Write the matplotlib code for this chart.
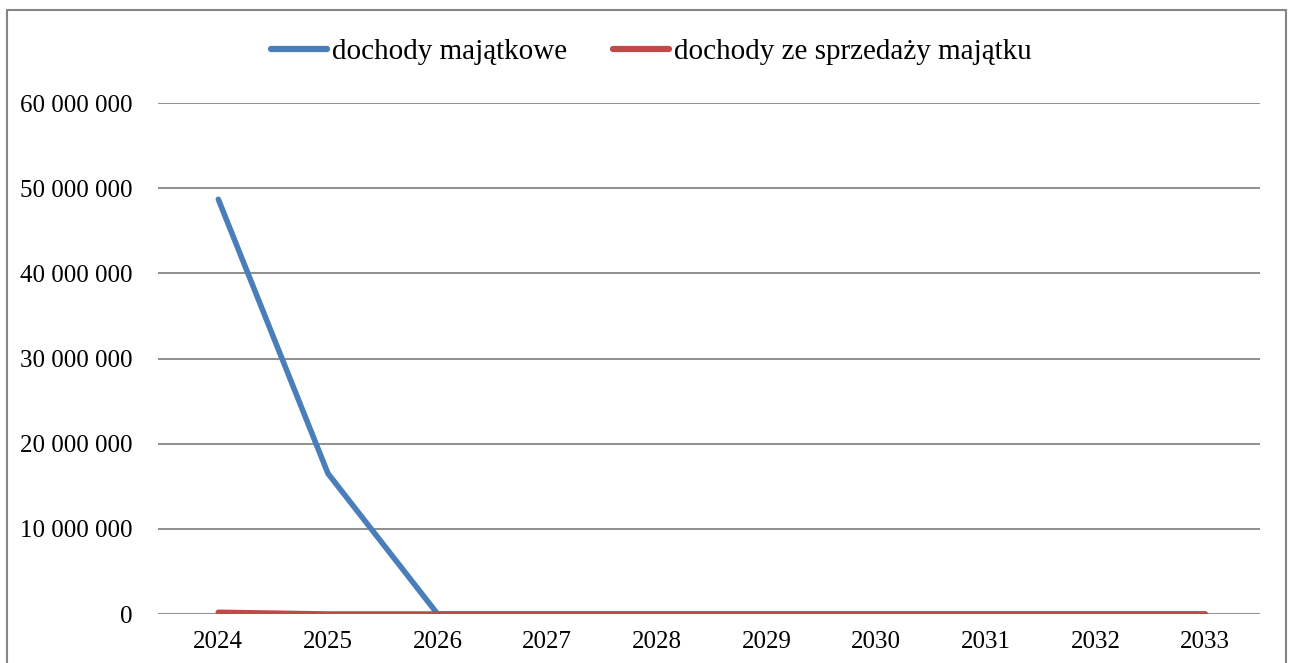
import matplotlib
matplotlib.use("Agg")
import matplotlib.pyplot as plt
from matplotlib.patches import Rectangle
from matplotlib.ticker import FuncFormatter

# Data
years = ["2024", "2025", "2026", "2027", "2028", "2029", "2030", "2031", "2032", "2033"]
dochody_majatkowe = [48700000, 16500000, 0, 0, 0, 0, 0, 0, 0, 0]
dochody_sprzedaz = [200000, 0, 0, 0, 0, 0, 0, 0, 0, 0]
y_ticks = [0, 10000000, 20000000, 30000000, 40000000, 50000000, 60000000]

plt.rcParams['font.family'] = ['Liberation Serif', 'DejaVu Serif']

fig = plt.figure(figsize=(12.95, 6.63), dpi=100)
ax = fig.add_axes([0.122, 0.0739, 0.851, 0.7707])

x = range(len(years))
ax.plot(x, dochody_majatkowe, color='#4A7EBB', lw=4.0, solid_capstyle='round',
        label='dochody majątkowe', zorder=3)
ax.plot(x, dochody_sprzedaz, color='#BE4B48', lw=4.0, solid_capstyle='round',
        label='dochody ze sprzedaży majątku', zorder=3)

ax.set_xlim(-0.55, 9.5)
ax.set_ylim(0, 60000000)
ax.set_xticks(list(x))
ax.set_xticklabels(years)
ax.set_yticks(y_ticks)
ax.yaxis.set_major_formatter(FuncFormatter(lambda v, p: f"{int(v):,}".replace(",", " ")))
ax.tick_params(axis='both', length=0, labelsize=18)
ax.tick_params(axis='y', pad=18)
ax.tick_params(axis='x', pad=12)
ax.grid(axis='y', color='#868686', lw=1.3)
ax.set_axisbelow(True)
for s in ax.spines.values():
    s.set_visible(False)

leg = fig.legend(loc='center', bbox_to_anchor=(0.503, 0.922), ncol=2, frameon=False,
                 fontsize=21, handlelength=1.9, handletextpad=0.17, columnspacing=1.6)
for line in leg.get_lines():
    line.set_linewidth(4.5)

# chart border
fig.patches.append(Rectangle((7 / 1295, -0.05), (1286 - 7) / 1295, 1.05 - 10 / 663,
                             transform=fig.transFigure, fill=False,
                             edgecolor='#868686', lw=1.5))

fig.savefig("out.png", dpi=100)
